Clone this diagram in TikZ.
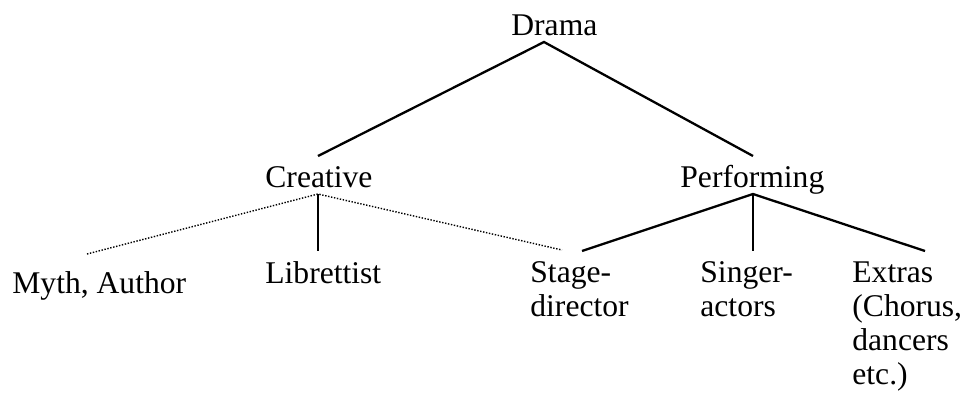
\documentclass[tikz,border=0pt]{standalone}
\usepackage{fontspec}
\setmainfont{Liberation Serif}
\usepackage{tikz}
\usetikzlibrary{positioning}

\begin{document}
\begin{tikzpicture}[x=0.5pt, y=-0.5pt,
    font=\fontsize{15.8}{17}\selectfont,
    lbl/.style={inner sep=0pt, anchor=base west, align=left},
    br/.style={line width=1.15pt},
    stem/.style={line width=0.7pt},
    faint/.style={line width=0.7pt, dash pattern=on 0.7pt off 0.8pt}]

  \useasboundingbox (0,0) rectangle (963,397);

  \node[lbl] (drama)      at (511, 35)  {Drama};
  \node[lbl] (creative)   at (265, 187) {Creative};
  \node[lbl] (performing) at (680, 187) {Performing};
  \node[lbl] (myth)       at (12, 293)  {Myth, Author};
  \node[lbl] (libretto)   at (265, 283) {Librettist};
  \node[lbl] (stage)      at (530, 316) {Stage-\\director};
  \node[lbl] (singer)     at (700, 316) {Singer-\\actors};
  \node[lbl] (extras)     at (852, 384) {Extras\\(Chorus,\\dancers\\etc.)};

  \draw[br] ([shift={(53,-31)}]creative.base west) -- ([shift={(33,7)}]drama.base west)
            -- ([shift={(73,-31)}]performing.base west);

  \draw[faint] ([shift={(75,-39)}]myth.base west) -- ([shift={(53,7)}]creative.base west)
               -- ([shift={(32,-66)}]stage.base west);
  \draw[stem] ([shift={(53,7)}]creative.base west) -- ([shift={(53,-32)}]libretto.base west);

  \draw[br] ([shift={(52,-65)}]stage.base west) -- ([shift={(73,7)}]performing.base west)
            -- ([shift={(73,-133)}]extras.base west);
  \draw[stem] ([shift={(73,7)}]performing.base west) -- ([shift={(53,-65)}]singer.base west);
\end{tikzpicture}
\end{document}
